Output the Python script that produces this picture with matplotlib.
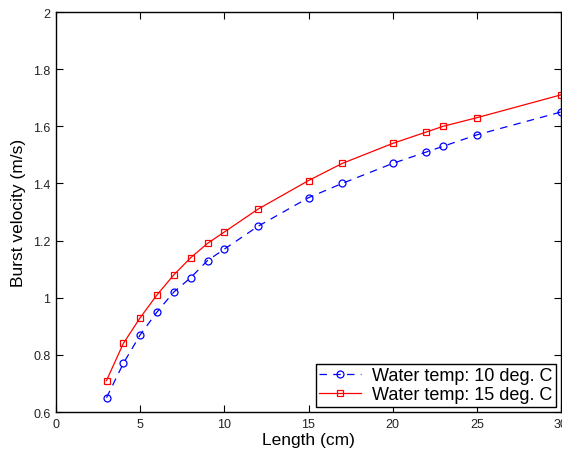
import matplotlib
matplotlib.use("Agg")
import matplotlib.pyplot as plt

length = [3, 4, 5, 6, 7, 8, 9, 10, 12, 15, 17, 20, 22, 23, 25, 30]
v10 = [0.65, 0.77, 0.87, 0.95, 1.02, 1.07, 1.13, 1.17, 1.25, 1.35, 1.40, 1.47, 1.51, 1.53, 1.57, 1.65]
v15 = [0.71, 0.84, 0.93, 1.01, 1.08, 1.14, 1.19, 1.23, 1.31, 1.41, 1.47, 1.54, 1.58, 1.60, 1.63, 1.71]
xticks = [0, 5, 10, 15, 20, 25, 30]
yticks = [0.6, 0.8, 1.0, 1.2, 1.4, 1.6, 1.8, 2.0]
yticklabels = ["0.6", "0.8", "1", "1.2", "1.4", "1.6", "1.8", "2"]

plt.rcParams['font.family'] = ['Liberation Sans', 'DejaVu Sans']

fig = plt.figure(figsize=(5.62, 4.52), dpi=100)
ax = fig.add_axes([56/562, 1 - 413/452, (561-56)/562, 400/452])

ax.plot(length, v10, color='#0000ff', linestyle=(0, (6, 5)), linewidth=0.9,
        marker='o', markersize=5, markerfacecolor='none', markeredgecolor='#0000ff',
        markeredgewidth=0.9, label='Water temp: 10 deg. C')
ax.plot(length, v15, color='#ff0000', linestyle='-', linewidth=0.9,
        marker='s', markersize=4.5, markerfacecolor='none', markeredgecolor='#ff0000',
        markeredgewidth=0.9, label='Water temp: 15 deg. C')

ax.set_xlim(0, 30)
ax.set_ylim(0.6, 2.0)
ax.set_xticks(xticks)
ax.set_yticks(yticks)
ax.set_yticklabels(yticklabels)
ax.tick_params(direction='in', top=True, right=True, length=5, width=0.8, labelsize=9,
               pad=4, labelcolor='#222222')
for s in ax.spines.values():
    s.set_linewidth(1.0)

ax.set_xlabel('Length (cm)', fontsize=12.5, labelpad=2)
ax.set_ylabel('Burst velocity (m/s)', fontsize=12.5, labelpad=5)

leg = ax.legend(loc='lower right', fontsize=13, frameon=True, fancybox=False,
                edgecolor='black', framealpha=1, borderpad=0.2, labelspacing=0.1,
                handlelength=2.3, handletextpad=0.6, borderaxespad=0.3)
leg.get_frame().set_linewidth(1.0)

fig.savefig('out.png', dpi=100)
